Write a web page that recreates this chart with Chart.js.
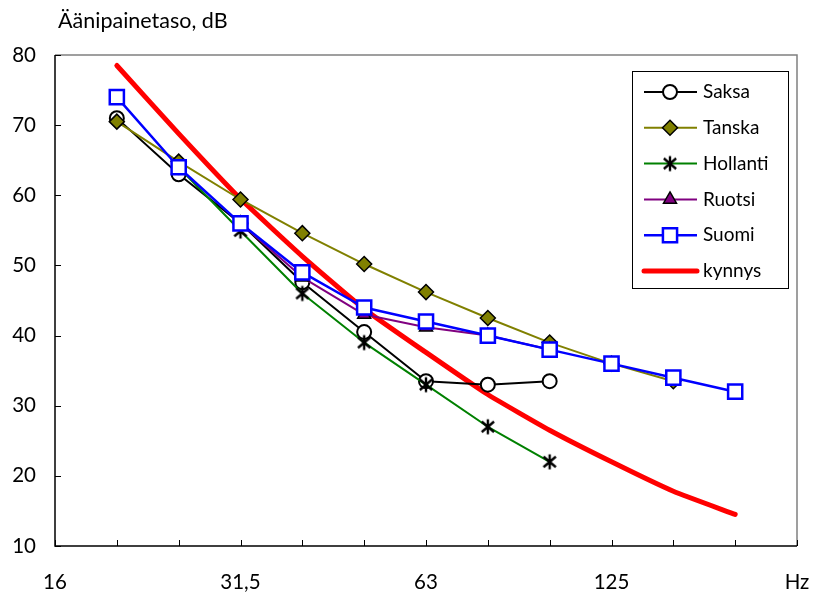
<!DOCTYPE html>
<html>
<head>
<meta charset="utf-8">
<script src="https://cdn.jsdelivr.net/npm/chart.js@4/dist/chart.umd.min.js"></script>
<style>
  html, body { margin: 0; padding: 0; background: #fff; }
  #wrap { position: relative; width: 814px; height: 596px; }
</style>
</head>
<body>
<div id="wrap"><canvas id="c" width="814" height="596"></canvas></div>
<script>
// ---- data ----
const freqs = ['16', '20', '25', '31,5', '40', '50', '63', '80', '100', '125', '160', '200', '250'];
const xTickLabels = ['16', '', '', '31,5', '', '', '63', '', '', '125', '', '', 'Hz'];
const yTitle = 'Äänipainetaso, dB';

const saksa    = [null, 71,   63,   56,   47.6, 40.5, 33.5, 33,   33.5, null, null, null, null];
const tanska   = [null, 70.5, 64.8, 59.4, 54.6, 50.2, 46.2, 42.5, 39,   36,   33.5, null, null];
const hollanti = [null, null, 64,   54.9, 46,   39,   33,   27,   22,   null, null, null, null];
const ruotsi   = [null, null, null, 56,   48.3, 43,   41.2, 40,   38,   null, null, null, null];
const suomi    = [null, 74,   64,   56,   49,   44,   42,   40,   38,   36,   34,   32,   null];
const kynnys   = [null, 78.5, 68.8, 59.5, 51.3, 43.8, 37.6, 31.6, 26.5, 22,   17.8, 14.5, null];

const FONT = 'Lato, "Open Sans", "DejaVu Sans", sans-serif';

// asterisk marker (vertical + X)
function makeAsterisk(r, color, lw) {
  const s = Math.ceil(2 * r + lw * 2);
  const c = document.createElement('canvas');
  c.width = s; c.height = s;
  const g = c.getContext('2d');
  const m = s / 2;
  g.strokeStyle = color; g.lineWidth = lw; g.lineCap = 'butt';
  g.beginPath();
  g.moveTo(m, m - r); g.lineTo(m, m + r);
  const d = r * 0.82;
  g.moveTo(m - d, m - d * 0.85); g.lineTo(m + d, m + d * 0.85);
  g.moveTo(m + d, m - d * 0.85); g.lineTo(m - d, m + d * 0.85);
  g.stroke();
  return c;
}
const asterisk = makeAsterisk(7.5, '#000', 2.4);

const datasets = [
  { label: 'Saksa', data: saksa, borderColor: '#000000', borderWidth: 2,
    pointStyle: 'circle', pointRadius: 7, pointBackgroundColor: '#ffffff', pointBorderColor: '#000000', pointBorderWidth: 2, order: 5 },
  { label: 'Tanska', data: tanska, borderColor: '#808000', borderWidth: 2,
    pointStyle: 'rectRot', pointRadius: 7.5, pointBackgroundColor: '#808000', pointBorderColor: '#000000', pointBorderWidth: 1.5, order: 4 },
  { label: 'Hollanti', data: hollanti, borderColor: '#008000', borderWidth: 2,
    pointStyle: asterisk, pointRadius: 8, pointBackgroundColor: '#000', pointBorderColor: '#000', pointBorderWidth: 0, order: 3 },
  { label: 'Ruotsi', data: ruotsi, borderColor: '#800080', borderWidth: 2,
    pointStyle: 'triangle', pointRadius: 7.5, pointBackgroundColor: '#800080', pointBorderColor: '#000000', pointBorderWidth: 1.5, order: 2 },
  { label: 'Suomi', data: suomi, borderColor: '#0000ff', borderWidth: 2.5,
    pointStyle: 'rect', pointRadius: 10, pointBackgroundColor: '#ffffff', pointBorderColor: '#0000ff', pointBorderWidth: 2.5, order: 1 },
  { label: 'kynnys', data: kynnys, borderColor: '#ff0000', borderWidth: 5, tension: 0.15,
    pointRadius: 0, pointStyle: false, borderCapStyle: 'round', borderJoinStyle: 'round', order: 6 }
];
datasets.forEach(d => { d.fill = false; d.spanGaps = false; if (d.tension === undefined) d.tension = 0; d.pointHoverRadius = d.pointRadius; });

const decorPlugin = {
  id: 'decor',
  afterDraw(chart) {
    const ctx = chart.ctx;
    const a = chart.chartArea;
    const xs = chart.scales.x, ys = chart.scales.y;
    ctx.save();
    // frame top/right (gray)
    ctx.strokeStyle = '#808080'; ctx.lineWidth = 1.5;
    ctx.beginPath();
    ctx.moveTo(a.left, a.top); ctx.lineTo(a.right, a.top); ctx.lineTo(a.right, a.bottom);
    ctx.stroke();
    // axes (black)
    ctx.strokeStyle = '#000'; ctx.lineWidth = 1.5;
    ctx.beginPath();
    ctx.moveTo(a.left, a.top); ctx.lineTo(a.left, a.bottom); ctx.lineTo(a.right, a.bottom);
    ctx.stroke();
    // inner ticks
    ctx.lineWidth = 1;
    ctx.strokeStyle = '#000';
    ctx.beginPath();
    for (let i = 0; i < xs.ticks.length; i++) {
      const px = Math.round(xs.getPixelForTick(i)) + 0.5;
      ctx.moveTo(px, a.bottom); ctx.lineTo(px, a.bottom - 6);
    }
    for (let i = 0; i < ys.ticks.length; i++) {
      const py = Math.round(ys.getPixelForTick(i)) + 0.5;
      ctx.moveTo(a.left, py); ctx.lineTo(a.left + 6, py);
    }
    ctx.stroke();
    // y title
    ctx.fillStyle = '#000';
    ctx.font = '21.5px ' + FONT;
    ctx.textBaseline = 'middle'; ctx.textAlign = 'left';
    ctx.fillText(yTitle, 58, 21);
    // legend
    const bx = 632, by = 71, bw = 156, bh = 217;
    ctx.fillStyle = '#fff';
    ctx.fillRect(bx, by, bw, bh);
    ctx.strokeStyle = '#000'; ctx.lineWidth = 1;
    ctx.strokeRect(bx + 0.5, by + 0.5, bw, bh);
    ctx.font = '19px ' + FONT;
    chart.data.datasets.forEach((d, i) => {
      const y = 92 + i * 35.8;
      ctx.strokeStyle = d.borderColor; ctx.lineWidth = d.borderWidth;
      ctx.lineCap = d.borderWidth > 3 ? 'round' : 'butt';
      ctx.beginPath(); ctx.moveTo(644, y); ctx.lineTo(697, y); ctx.stroke();
      if (d.pointStyle) {
        ctx.fillStyle = d.pointBackgroundColor; ctx.strokeStyle = d.pointBorderColor;
        ctx.lineWidth = d.pointBorderWidth;
        Chart.helpers.drawPoint(ctx, { pointStyle: d.pointStyle, radius: d.pointRadius, rotation: 0, borderWidth: d.pointBorderWidth }, 670, y);
      }
      ctx.fillStyle = '#000';
      ctx.textBaseline = 'middle'; ctx.textAlign = 'left';
      ctx.fillText(d.label, 703, y);
    });
    ctx.restore();
  }
};

new Chart(document.getElementById('c'), {
  type: 'line',
  data: { labels: freqs, datasets: datasets },
  options: {
    responsive: false,
    animation: false,
    devicePixelRatio: 1,
    layout: { padding: { top: 55, right: 17, bottom: 0, left: 0 } },
    plugins: { legend: { display: false }, tooltip: { enabled: false }, title: { display: false } },
    elements: { line: { borderJoinStyle: 'round' } },
    scales: {
      x: {
        type: 'category',
        offset: false,
        grid: { display: false, drawTicks: false },
        border: { display: false },
        afterFit(s) { s.height = 50; s.paddingLeft = 0; s.paddingRight = 0; },
        ticks: {
          autoSkip: false, maxRotation: 0, padding: 24, color: '#000',
          font: { family: FONT, size: 20.5 },
          callback: (v, i) => xTickLabels[i]
        }
      },
      y: {
        min: 10, max: 80,
        grid: { display: false, drawTicks: false },
        border: { display: false },
        afterFit(s) { s.width = 55; s.paddingTop = 0; s.paddingBottom = 0; },
        ticks: { stepSize: 10, padding: 19, color: '#000', font: { family: FONT, size: 20.5 } }
      }
    }
  },
  plugins: [decorPlugin]
});
</script>
</body>
</html>
